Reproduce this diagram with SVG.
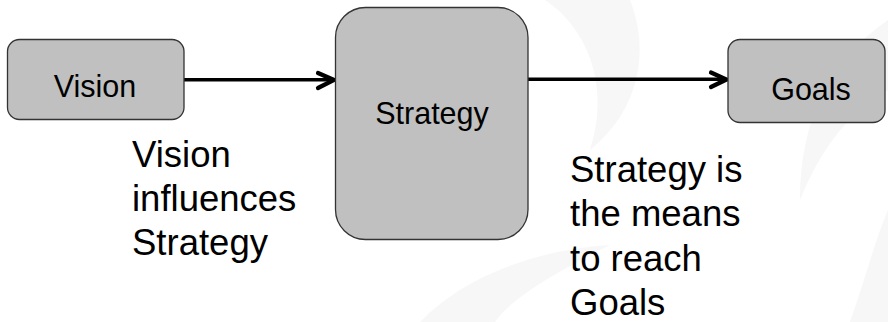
<svg xmlns="http://www.w3.org/2000/svg" width="888" height="322" viewBox="0 0 888 322">
<defs>
<style>
.box{fill:#c0c0c0;stroke:#333333;stroke-width:1.3}
.lbl{font-family:"Liberation Sans",Arial,sans-serif;font-size:30.5px;fill:#000;text-anchor:middle}
.note{font-family:"Liberation Sans",Arial,sans-serif;font-size:36.5px;fill:#000}
.conn{stroke:#000;stroke-width:3.5;fill:none}
.head{stroke:#000;stroke-width:4.2;fill:none;stroke-linecap:round;stroke-linejoin:miter}
.wm{fill:#f7f7f7}
</style>
</defs>
<rect width="888" height="322" fill="#ffffff"/>
<g id="watermark">
<path class="wm" d="M545,0 C590,30 610,90 590,150 C640,110 650,50 630,0 Z"/>
<path class="wm" d="M888,20 C830,60 800,120 800,200 C820,150 850,110 888,90 Z"/>
<path class="wm" d="M420,322 C460,280 530,250 610,245 C550,275 510,300 495,322 Z"/>
<path class="wm" d="M850,322 C865,280 875,240 888,210 L888,322 Z"/>
</g>
<g id="connectors">
<line class="conn" x1="184" y1="79.7" x2="333" y2="79.7"/>
<polyline class="head" points="318,73 334,80 318,88"/>
<line class="conn" x1="528" y1="79.3" x2="725" y2="79.3"/>
<polyline class="head" points="711,72.5 726.5,79.5 711,87"/>
</g>
<g id="vision">
<rect class="box" x="7.5" y="39.5" width="176.5" height="80" rx="12"/>
<text class="lbl" x="95" y="96.5">Vision</text>
</g>
<g id="strategy">
<rect class="box" x="335.5" y="7.5" width="192.5" height="232" rx="30"/>
<text class="lbl" x="432" y="123.5">Strategy</text>
</g>
<g id="goals">
<rect class="box" x="728" y="39.5" width="157" height="83" rx="12"/>
<text class="lbl" x="811" y="99.5">Goals</text>
</g>
<g id="note-vision">
<text class="note" x="132" y="167">Vision</text>
<text class="note" x="132" y="211">influences</text>
<text class="note" x="132" y="255">Strategy</text>
</g>
<g id="note-strategy">
<text class="note" x="570" y="181.7">Strategy is</text>
<text class="note" x="570" y="226.2">the means</text>
<text class="note" x="570" y="270.7">to reach</text>
<text class="note" x="570" y="315">Goals</text>
</g>
</svg>
